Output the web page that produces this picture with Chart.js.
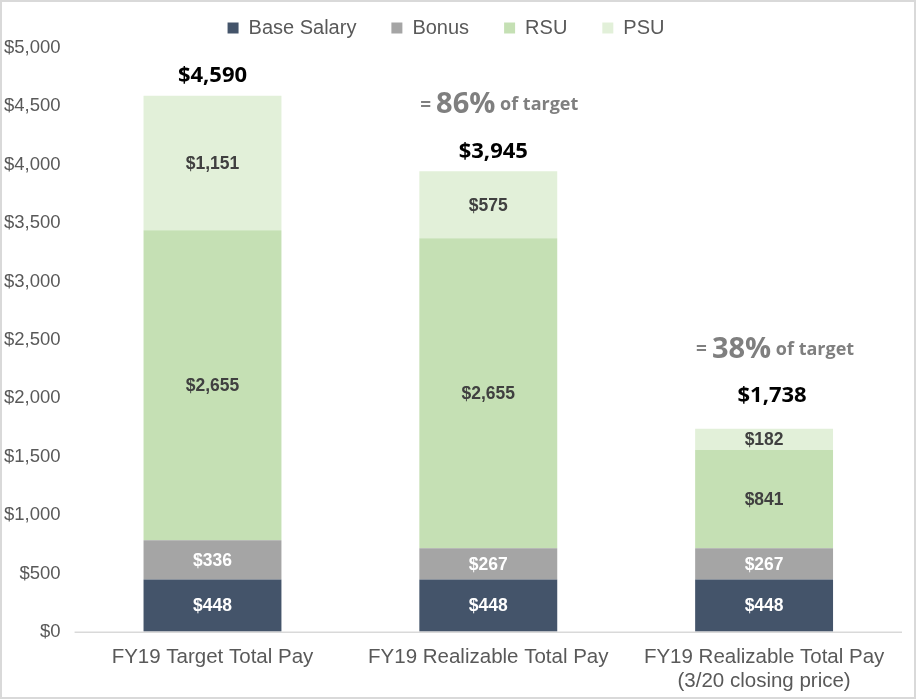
<!DOCTYPE html>
<html>
<head>
<meta charset="utf-8">
<script src="https://cdn.jsdelivr.net/npm/chart.js@4/dist/chart.umd.min.js"></script>
<style>
  html, body { margin: 0; padding: 0; background: #fff; }
</style>
</head>
<body>
<canvas id="payChart" width="916" height="699"></canvas>
<script>
// data
const categories = ['FY19 Target Total Pay', 'FY19 Realizable Total Pay', ['FY19 Realizable Total Pay', '(3/20 closing price)']];
const baseSalary = [448, 448, 448];
const bonus = [336, 267, 267];
const rsu = [2655, 2655, 841];
const psu = [1151, 575, 182];
const yTicks = [0, 500, 1000, 1500, 2000, 2500, 3000, 3500, 4000, 4500, 5000];

// styling / placement (px offsets above bar tops)
const totalOffset = [20, 19, 33];
const totalShift = [0, 5, 8];
const noteOffset = [null, 66, 79];

const money = v => '$' + v.toLocaleString('en-US');
const FONT = '"Liberation Sans", Arial, sans-serif';
const CAL = '"Open Sans", "Noto Sans", sans-serif';

const barLabels = {
  id: 'barLabels',
  afterDatasetsDraw(chart) {
    const ctx = chart.ctx;
    ctx.save();
    ctx.textAlign = 'center';
    ctx.textBaseline = 'middle';
    chart.data.datasets.forEach((ds, i) => {
      const meta = chart.getDatasetMeta(i);
      meta.data.forEach((bar, j) => {
        ctx.font = 'bold 17.5px ' + FONT;
        ctx.fillStyle = ds.labelColor;
        const cy = (bar.y + bar.base) / 2;
        ctx.fillText(money(ds.data[j]), bar.x, cy + 1);
      });
    });

    const y = chart.scales.y;
    const target = categories.map((c, j) => chart.data.datasets.reduce((s, ds) => s + ds.data[j], 0));
    const meta0 = chart.getDatasetMeta(0);
    target.forEach((tot, j) => {
      const x = meta0.data[j].x;
      const top = y.getPixelForValue(tot);
      ctx.font = 'bold 22px ' + CAL;
      ctx.fillStyle = '#000';
      ctx.fillText(money(tot), x + totalShift[j], top - totalOffset[j]);
      if (noteOffset[j] != null) {
        const pct = Math.round(tot / target[0] * 100) + '%';
        const parts = [['= ', 'bold 19px ' + CAL], [pct, 'bold 29px ' + CAL], [' of target', 'bold 18px ' + CAL]];
        let w = 0;
        parts.forEach(p => { ctx.font = p[1]; w += ctx.measureText(p[0]).width; });
        let px = x + 11 - w / 2;
        ctx.textAlign = 'left';
        ctx.fillStyle = '#7f7f7f';
        parts.forEach(p => {
          ctx.font = p[1];
          ctx.fillText(p[0], px, top - noteOffset[j]);
          px += ctx.measureText(p[0]).width;
        });
        ctx.textAlign = 'center';
      }
    });

    // baseline + frame
    const a = chart.chartArea;
    ctx.strokeStyle = '#d9d9d9';
    ctx.lineWidth = 1.5;
    ctx.beginPath();
    ctx.moveTo(a.left, a.bottom + 0.5);
    ctx.lineTo(a.right, a.bottom + 0.5);
    ctx.stroke();
    ctx.lineWidth = 2;
    ctx.strokeRect(1, 1, chart.width - 2, chart.height - 2);
    ctx.restore();
  }
};

new Chart(document.getElementById('payChart'), {
  type: 'bar',
  data: {
    labels: categories,
    datasets: [
      { label: 'Base Salary', data: baseSalary, backgroundColor: '#44546a', labelColor: '#ffffff' },
      { label: 'Bonus', data: bonus, backgroundColor: '#a5a5a5', labelColor: '#ffffff' },
      { label: 'RSU', data: rsu, backgroundColor: '#c5e0b4', labelColor: '#404040' },
      { label: 'PSU', data: psu, backgroundColor: '#e2f0d9', labelColor: '#404040' }
    ]
  },
  options: {
    responsive: false,
    animation: false,
    devicePixelRatio: 1,
    layout: { padding: { left: -10, right: 14, top: -17, bottom: -8 } },
    datasets: { bar: { barPercentage: 1, categoryPercentage: 0.5 } },
    plugins: {
      legend: {
        position: 'top',
        labels: {
          boxWidth: 11, boxHeight: 11, padding: 35,
          color: '#595959', font: { family: FONT, size: 20 }
        }
      },
      tooltip: { enabled: false }
    },
    scales: {
      x: {
        stacked: true,
        grid: { display: false, drawTicks: false },
        border: { display: false },
        ticks: { color: '#595959', font: { family: FONT, size: 20.5 }, padding: 13, maxRotation: 0 }
      },
      y: {
        stacked: true,
        min: 0, max: 5000,
        afterBuildTicks: s => { s.ticks = yTicks.map(v => ({ value: v })); },
        grid: { display: false, drawTicks: false },
        border: { display: false },
        ticks: { color: '#595959', font: { family: FONT, size: 18.5 }, padding: 14, callback: v => money(v) }
      }
    }
  },
  plugins: [barLabels]
});
</script>
</body>
</html>
